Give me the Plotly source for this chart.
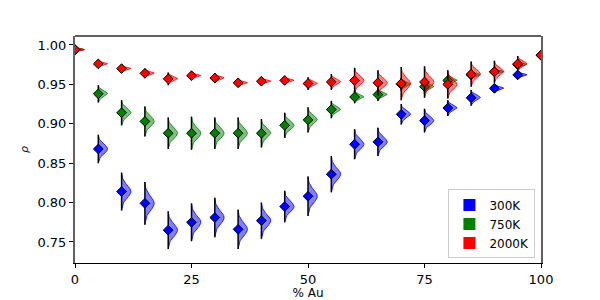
import numpy as np
import plotly.graph_objects as go

# ---- data ----
pct_au = [0, 5, 10, 15, 20, 25, 30, 35, 40, 45, 50, 55, 60, 65, 70, 75, 80, 85, 90, 95, 100]
labels = ["300K", "750K", "2000K"]

rho_300 = [0.994, 0.868, 0.814, 0.799, 0.765, 0.775, 0.781, 0.766, 0.777, 0.795, 0.808,
           0.836, 0.874, 0.877, 0.912, 0.904, 0.920, 0.933, 0.945, 0.962, 0.987]
rho_750 = [0.994, 0.938, 0.914, 0.903, 0.888, 0.888, 0.888, 0.888, 0.888, 0.898, 0.905,
           0.918, 0.934, 0.937, 0.950, 0.947, 0.955, 0.962, 0.966, 0.975, 0.987]
rho_2000 = [0.994, 0.976, 0.970, 0.964, 0.957, 0.961, 0.958, 0.952, 0.954, 0.955, 0.951,
            0.953, 0.955, 0.952, 0.951, 0.953, 0.950, 0.963, 0.966, 0.976, 0.987]

# half-range of each distribution
spread_300 = [0.003, 0.018, 0.024, 0.027, 0.024, 0.024, 0.025, 0.025, 0.023, 0.020, 0.025,
              0.023, 0.019, 0.018, 0.013, 0.015, 0.010, 0.010, 0.006, 0.005, 0.003]
spread_750 = [0.003, 0.011, 0.016, 0.019, 0.020, 0.021, 0.020, 0.020, 0.018, 0.016, 0.016,
              0.011, 0.008, 0.008, 0.008, 0.009, 0.008, 0.006, 0.005, 0.004, 0.003]
spread_2000 = [0.003, 0.005, 0.005, 0.006, 0.008, 0.005, 0.006, 0.005, 0.005, 0.005, 0.008,
               0.010, 0.016, 0.016, 0.021, 0.020, 0.018, 0.016, 0.014, 0.010, 0.005]

series = [
    (labels[0], rho_300, spread_300, "blue", "rgba(0,0,255,0.5)"),
    (labels[1], rho_750, spread_750, "green", "rgba(0,128,0,0.5)"),
    (labels[2], rho_2000, spread_2000, "red", "rgba(255,0,0,0.5)"),
]

HALF_WIDTH = 2.0  # violin half width in x units

fig = go.Figure()

for name, vals, spr, col, fillc in series:
    xs, ys = [], []
    for x0, m, h in zip(pct_au, vals, spr):
        s = h / 3.0
        yy = np.linspace(m - h, m + h, 50)
        ww = HALF_WIDTH * np.exp(-0.5 * ((yy - m) / s) ** 2)
        px = [x0] + list(x0 + ww) + [x0, None]
        py = [m - h] + list(yy) + [m + h, None]
        xs += px
        ys += py
    fig.add_trace(go.Scatter(x=xs, y=ys, mode="lines", fill="toself", fillcolor=fillc,
                             line=dict(color=col, width=0.8), showlegend=False,
                             hoverinfo="skip"))
    fig.add_trace(go.Scatter(
        x=pct_au, y=vals, mode="markers", showlegend=False,
        marker=dict(symbol="diamond", size=7.5, color=col, line=dict(color="black", width=1)),
        error_y=dict(type="data", array=spr, symmetric=True, color="black",
                     thickness=1.5, width=0)))

for name, vals, spr, col, fillc in series:
    fig.add_trace(go.Scatter(x=[None], y=[None], mode="markers", name=name,
                             marker=dict(symbol="square", size=15, color=col)))

fig.add_shape(type="line", xref="paper", yref="paper", x0=0, x1=1, y0=1, y1=1,
              line=dict(color="#606060", width=2))

fig.update_layout(
    width=600, height=300,
    margin=dict(l=75, r=59, t=36, b=37, autoexpand=False),
    paper_bgcolor="white", plot_bgcolor="white",
    font=dict(family="DejaVu Sans", size=13, color="black"),
    showlegend=True,
    legend=dict(x=0.988, y=0.02, xanchor="right", yanchor="bottom",
                bgcolor="white", bordercolor="#cccccc", borderwidth=1,
                font=dict(size=12), tracegroupgap=0, itemsizing="constant"),
    xaxis=dict(range=[0, 100], tickvals=[0, 25, 50, 75, 100], ticks="outside",
               ticklen=4, tickcolor="black", showgrid=False, zeroline=False,
               showline=True, linecolor="black", linewidth=1, automargin=False,
               title=dict(text="% Au", font=dict(size=12), standoff=2)),
    yaxis=dict(range=[0.7233, 1.0114], tickvals=[0.75, 0.80, 0.85, 0.90, 0.95, 1.00],
               tickformat=".2f", ticks="outside", ticklen=4, tickcolor="black",
               showgrid=False, zeroline=False, showline=True, mirror=True,
               linecolor="#606060", linewidth=2, automargin=False,
               title=dict(text="<i>ρ</i>", font=dict(size=11), standoff=7)),
)

fig.write_html("out.html", config={"displayModeBar": False},
               post_script="document.body.style.margin='0';document.body.style.padding='0';")
